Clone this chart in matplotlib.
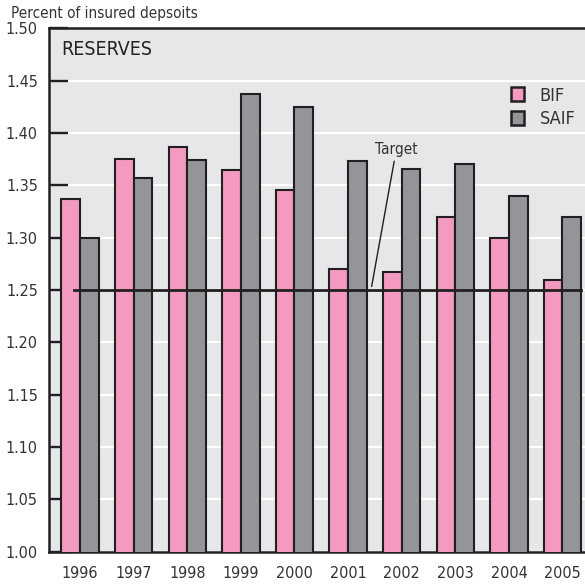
import numpy as np
import matplotlib.pyplot as plt
from matplotlib.patches import Patch

plt.rcParams['font.family'] = ['DejaVu Sans']
plt.rcParams['font.stretch'] = 'condensed'

years = ['1996', '1997', '1998', '1999', '2000', '2001', '2002', '2003', '2004', '2005']
bif = [1.337, 1.375, 1.387, 1.365, 1.346, 1.270, 1.267, 1.320, 1.300, 1.260]
saif = [1.300, 1.357, 1.374, 1.437, 1.425, 1.373, 1.366, 1.370, 1.340, 1.320]
target = 1.25
yticks = [1.00, 1.05, 1.10, 1.15, 1.20, 1.25, 1.30, 1.35, 1.40, 1.45, 1.50]

pink = '#f49ac1'
grey = '#939598'
edge = '#231f20'
txt = '#333333'

fig = plt.figure(figsize=(5.85, 5.84), dpi=100)
ax = fig.add_axes([0.0838, 0.0553, 0.9162, 0.8962])
ax.set_facecolor('#e6e7e8')

x = np.arange(len(years))
w = 0.349
ax.bar(x - w / 2, bif, w, bottom=0, color=pink, edgecolor=edge, linewidth=1.5, zorder=3)
ax.bar(x + w / 2, saif, w, bottom=0, color=grey, edgecolor=edge, linewidth=1.5, zorder=3)

ax.set_ylim(1.0, 1.5)
ax.set_xlim(-0.578, 9.42)

# target line over the bars
ax.plot([-0.11, 9.35], [target, target], color=edge, linewidth=2, zorder=4)
ax.annotate('Target', xy=(5.44, 1.2534), xytext=(5.9, 1.377), ha='center', va='bottom',
            fontsize=11, color=txt,
            arrowprops=dict(arrowstyle='-', color=edge, linewidth=1, shrinkA=1, shrinkB=0))

ax.set_yticks(yticks)
ax.set_yticklabels(['%.2f' % v for v in yticks])
ax.set_xticks(x)
ax.set_xticklabels(years)
ax.tick_params(axis='y', direction='in', length=13.5, width=1.7, color=edge, pad=8,
               labelsize=11.5, labelcolor=txt)
ax.tick_params(axis='x', length=0, pad=10, labelsize=11.5, labelcolor=txt)
ax.yaxis.grid(True, color='white', linewidth=1.5, zorder=1)
ax.set_axisbelow(True)

for s in ['left', 'bottom', 'top']:
    ax.spines[s].set_color(edge)
    ax.spines[s].set_linewidth(1.8)
ax.spines['right'].set_visible(False)

ax.text(0.022, 0.977, 'RESERVES', transform=ax.transAxes, ha='left', va='top',
        fontsize=14, color='#222222')
fig.text(0.019, 0.977, 'Percent of insured depsoits', ha='left', va='center',
         fontsize=11, color=txt)

handles = [Patch(facecolor=pink, edgecolor=edge, linewidth=1.8, label='BIF'),
           Patch(facecolor=grey, edgecolor=edge, linewidth=1.8, label='SAIF')]
ax.legend(handles=handles, loc='upper left', bbox_to_anchor=(0.845, 0.906), frameon=False,
          fontsize=13, handlelength=0.75, handleheight=0.8, handletextpad=0.85,
          labelspacing=0.3, borderpad=0, labelcolor=txt)

fig.savefig('out.png', dpi=100)
